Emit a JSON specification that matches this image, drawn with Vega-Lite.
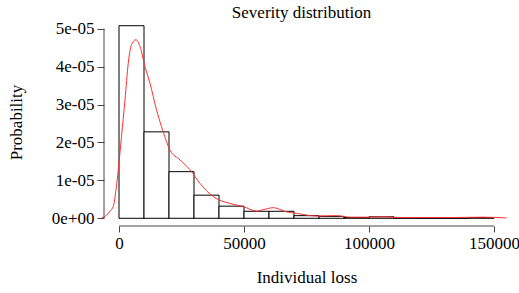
{
  "$schema": "https://vega.github.io/schema/vega-lite/v6.json",
  "width": 405,
  "height": 208,
  "autosize": {"type": "none"},
  "padding": {"left": 104, "top": 18, "right": 10, "bottom": 67},
  "background": "white",
  "title": {
    "text": "Severity distribution",
    "font": "Liberation Serif",
    "fontSize": 17,
    "fontWeight": "normal",
    "color": "black",
    "anchor": "middle",
    "baseline": "alphabetic",
    "offset": 0,
    "dy": 17,
    "dx": -5
  },
  "config": {
    "view": {"stroke": null},
    "axis": {
      "labelFont": "Liberation Serif",
      "titleFont": "Liberation Serif",
      "labelFontSize": 17,
      "titleFontSize": 17,
      "titleFontWeight": "normal",
      "labelColor": "black",
      "titleColor": "black",
      "tickColor": "#444",
      "domain": false,
      "grid": false
    }
  },
  "datasets": {
    "bins": [
      {"start": 0, "end": 10000, "density": 5.08e-5},
      {"start": 10000, "end": 20000, "density": 2.28e-5},
      {"start": 20000, "end": 30000, "density": 1.23e-5},
      {"start": 30000, "end": 40000, "density": 0.61e-5},
      {"start": 40000, "end": 50000, "density": 0.32e-5},
      {"start": 50000, "end": 60000, "density": 0.185e-5},
      {"start": 60000, "end": 70000, "density": 0.185e-5},
      {"start": 70000, "end": 80000, "density": 0.07e-5},
      {"start": 80000, "end": 90000, "density": 0.05e-5},
      {"start": 90000, "end": 100000, "density": 0.02e-5},
      {"start": 100000, "end": 110000, "density": 0.04e-5},
      {"start": 110000, "end": 120000, "density": 0.01e-5},
      {"start": 120000, "end": 130000, "density": 0.005e-5},
      {"start": 130000, "end": 140000, "density": 0.005e-5},
      {"start": 140000, "end": 150000, "density": 0.02e-5}
    ],
    "dens": [
      {"loss": -7000, "density": 0.01e-5},
      {"loss": -5000, "density": 0.08e-5},
      {"loss": -3500, "density": 0.2e-5},
      {"loss": -2300, "density": 0.31e-5},
      {"loss": -1200, "density": 0.75e-5},
      {"loss": -300, "density": 1.28e-5},
      {"loss": 1000, "density": 2.16e-5},
      {"loss": 2400, "density": 3.12e-5},
      {"loss": 3700, "density": 4.09e-5},
      {"loss": 5000, "density": 4.58e-5},
      {"loss": 6800, "density": 4.71e-5},
      {"loss": 8400, "density": 4.53e-5},
      {"loss": 10400, "density": 4.0e-5},
      {"loss": 12400, "density": 3.56e-5},
      {"loss": 15000, "density": 2.86e-5},
      {"loss": 17000, "density": 2.42e-5},
      {"loss": 20400, "density": 1.8e-5},
      {"loss": 24400, "density": 1.54e-5},
      {"loss": 28400, "density": 1.28e-5},
      {"loss": 32400, "density": 0.92e-5},
      {"loss": 37700, "density": 0.57e-5},
      {"loss": 44400, "density": 0.39e-5},
      {"loss": 49700, "density": 0.31e-5},
      {"loss": 55000, "density": 0.19e-5},
      {"loss": 58500, "density": 0.24e-5},
      {"loss": 61700, "density": 0.28e-5},
      {"loss": 67000, "density": 0.17e-5},
      {"loss": 71000, "density": 0.13e-5},
      {"loss": 79000, "density": 0.06e-5},
      {"loss": 87000, "density": 0.07e-5},
      {"loss": 92400, "density": 0.03e-5},
      {"loss": 99000, "density": 0.03e-5},
      {"loss": 105700, "density": 0.04e-5},
      {"loss": 112400, "density": 0.02e-5},
      {"loss": 132400, "density": 0.02e-5},
      {"loss": 145600, "density": 0.03e-5},
      {"loss": 155000, "density": 0.01e-5}
    ],
    "xline": [{"a": 0, "b": 150000, "y": -0.2032e-5}],
    "yline": [{"x": -6000, "a": 0, "b": 5e-5}]
  },
  "layer": [
    {
      "data": {"name": "bins"},
      "mark": {"type": "rect", "fill": "white", "stroke": "black", "strokeWidth": 1},
      "encoding": {
        "x": {
          "field": "start", "type": "quantitative",
          "scale": {"domain": [-6000, 156000], "nice": false, "zero": false},
          "axis": {
            "values": [0, 50000, 100000, 150000],
            "format": "d",
            "tickSize": 6,
            "labelPadding": 3,
            "title": "Individual loss",
            "titlePadding": 18
          }
        },
        "x2": {"field": "end"},
        "y": {
          "field": "density", "type": "quantitative",
          "scale": {"domain": [-0.2032e-5, 5.2832e-5], "nice": false, "zero": false},
          "axis": {
            "values": [0, 1e-5, 2e-5, 3e-5, 4e-5, 5e-5],
            "labelExpr": "datum.value == 0 ? '0e+00' : format(datum.value * 1e5, '.0f') + 'e-05'",
            "tickSize": 7,
            "labelPadding": 3,
            "labelAngle": 0,
            "title": "Probability",
            "titlePadding": 26
          }
        },
        "y2": {"datum": 0}
      }
    },
    {
      "data": {"name": "dens"},
      "mark": {"type": "line", "color": "#ff3030", "strokeWidth": 1, "interpolate": "monotone", "clip": false},
      "encoding": {
        "x": {"field": "loss", "type": "quantitative"},
        "y": {"field": "density", "type": "quantitative"}
      }
    },
    {
      "data": {"name": "xline"},
      "mark": {"type": "rule", "color": "#444", "strokeWidth": 1},
      "encoding": {
        "x": {"field": "a", "type": "quantitative"},
        "x2": {"field": "b"},
        "y": {"field": "y", "type": "quantitative"}
      }
    },
    {
      "data": {"name": "yline"},
      "mark": {"type": "rule", "color": "#444", "strokeWidth": 1},
      "encoding": {
        "x": {"field": "x", "type": "quantitative"},
        "y": {"field": "a", "type": "quantitative"},
        "y2": {"field": "b"}
      }
    }
  ]
}
